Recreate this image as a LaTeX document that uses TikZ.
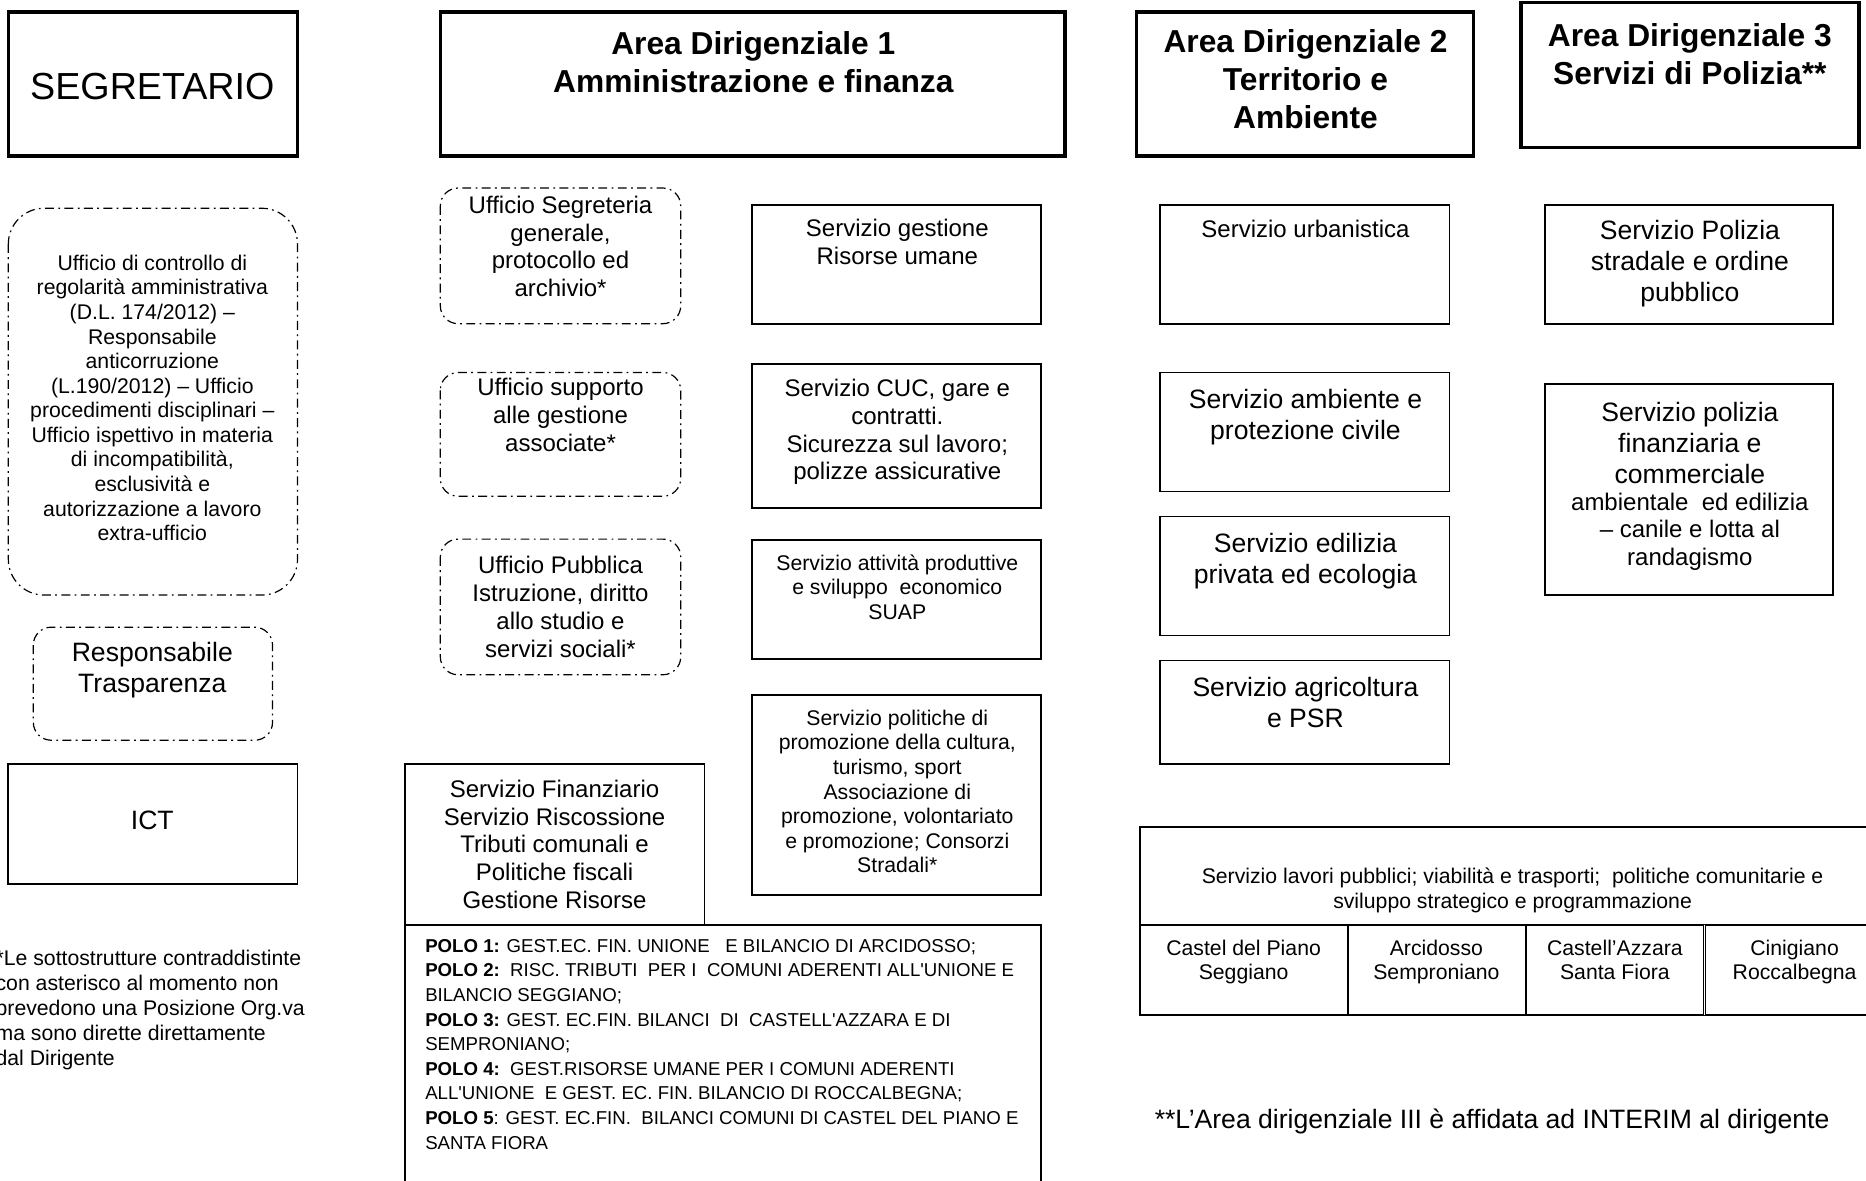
\documentclass[tikz,border=0pt]{standalone}
\usepackage{fontspec}
\setmainfont{Liberation Sans}
\tikzset{
	headbox/.style={line width=1.8pt},
	servbox/.style={line width=0.9pt},
	uffbox/.style={line width=0.6pt, dash pattern=on 4.5pt off 2.2pt on 0.9pt off 2.2pt, rounded corners=9pt},
	lbl/.style={align=center, inner sep=0pt, anchor=base},
	txthuge/.style={lbl, font=\fontsize{19}{22}\selectfont},
	txthead/.style={lbl, font=\fontsize{16}{19}\selectfont\bfseries},
	txtbig/.style={lbl, font=\fontsize{13.4}{15.6}\selectfont},
	txtmid/.style={lbl, font=\fontsize{12.1}{14}\selectfont},
	txtsmall/.style={lbl, font=\fontsize{10.7}{12.4}\selectfont},
	txtpolo/.style={lbl, align=left, anchor=base west, font=\fontsize{9.4}{12.4}\selectfont}
}

\begin{document}
\begin{tikzpicture}[x=0.6pt, y=-0.6pt]
	\useasboundingbox (0,0) rectangle (1568,992);
	
	% intestazioni (base = ultima riga)
	\draw[headbox] (7,10) rectangle (250,131);
	\draw[headbox] (370,10) rectangle (895,131);
	\draw[headbox] (955,10) rectangle (1238,131);
	\draw[headbox] (1278,2) rectangle (1562,124);
	\node[txthuge] (segr) at (128,84) {SEGRETARIO};
	\node[txthead] (area1) at (633,77.6) {Area Dirigenziale 1\\Amministrazione e finanza};
	\node[txthead] (area2) at (1097,107.6) {Area Dirigenziale 2\\Territorio e\\Ambiente};
	\node[txthead] (area3) at (1420,70.6) {Area Dirigenziale 3\\Servizi di Polizia**};
	
	% segretario
	\draw[uffbox, rounded corners=18pt] (7,175) rectangle (250,500);
	\draw[uffbox] (28,527) rectangle (229,622);
	\draw[servbox] (7,642) rectangle (250,743);
	\node[txtsmall] (controllo) at (128,454.4) {Ufficio di controllo di\\regolarità amministrativa\\(D.L. 174/2012) --\\Responsabile\\anticorruzione\\(L.190/2012) -- Ufficio\\procedimenti disciplinari --\\Ufficio ispettivo in materia\\di incompatibilità,\\esclusività e\\autorizzazione a lavoro\\extra-ufficio};
	\node[txtbig] (trasp) at (128,582) {Responsabile\\Trasparenza};
	\node[txtbig] (ict) at (128,697) {ICT};
	\node[txtsmall, align=left, anchor=base west, font=\fontsize{10.7}{12.6}\selectfont] (nota1) at (-4,895.4) {*Le sottostrutture contraddistinte\\con asterisco al momento non\\prevedono una Posizione Org.va\\ma sono dirette direttamente\\dal Dirigente};
	
	% area 1
	\draw[uffbox] (370,158) rectangle (572,272);
	\draw[uffbox] (370,313) rectangle (572,417);
	\draw[uffbox] (370,453) rectangle (572,567);
	\node[txtmid] (segreteria) at (471,249.3) {Ufficio Segreteria\\generale,\\protocollo ed\\archivio*};
	\node[txtmid] (supporto) at (471,379.3) {Ufficio supporto\\alle gestione\\associate*};
	\node[txtmid] (istruzione) at (471,552.3) {Ufficio Pubblica\\Istruzione, diritto\\allo studio e\\servizi sociali*};
	
	\draw[servbox] (632,172) rectangle (875,272);
	\draw[servbox] (632,306) rectangle (875,427);
	\draw[servbox] (632,454) rectangle (875,554);
	\draw[servbox] (632,584) rectangle (875,752);
	\node[txtmid] (risorse) at (754,222.3) {Servizio gestione\\Risorse umane};
	\node[txtmid] (cuc) at (754,403.3) {Servizio CUC, gare e\\contratti.\\Sicurezza sul lavoro;\\polizze assicurative};
	\node[txtsmall] (suap) at (754,520.4) {Servizio attività produttive\\e sviluppo\ \ economico\\SUAP};
	\node[txtsmall] (cultura) at (754,733.4) {Servizio politiche di\\promozione della cultura,\\turismo, sport\\Associazione di\\promozione, volontariato\\e promozione; Consorzi\\Stradali*};
	
	\draw[servbox] (340,777) -- (340,642) -- (592,642) -- (592,777);
	\draw[servbox] (340,1000) -- (340,777) -- (875,777) -- (875,1000);
	\node[txtmid] (finanz) at (466,763.3) {Servizio Finanziario\\Servizio Riscossione\\Tributi comunali e\\Politiche fiscali\\Gestione Risorse};
	\node[txtpolo] (poli) at (357,965.6) {\textbf{POLO 1:} GEST.EC. FIN. UNIONE\ \ \ E BILANCIO DI ARCIDOSSO;\\
		\textbf{POLO 2:}\ \ RISC. TRIBUTI\ \ PER I\ \ COMUNI ADERENTI ALL\textquotesingle UNIONE E\\
		BILANCIO SEGGIANO;\\
		\textbf{POLO 3:} GEST. EC.FIN. BILANCI\ \ DI\ \ CASTELL\textquotesingle AZZARA E DI\\
		SEMPRONIANO;\\
		\textbf{POLO 4:}\ \ GEST.RISORSE UMANE PER I COMUNI ADERENTI\\
		ALL\textquotesingle UNIONE\ \ E GEST. EC. FIN. BILANCIO DI ROCCALBEGNA;\\
		\textbf{POLO 5}: GEST. EC.FIN.\ \ BILANCI COMUNI DI CASTEL DEL PIANO E\\
		SANTA FIORA};
	
	% area 2
	\draw[servbox] (975,172) rectangle (1218,272);
	\draw[servbox] (975,313) rectangle (1218,413);
	\draw[servbox] (975,434) rectangle (1218,534);
	\draw[servbox] (975,555) rectangle (1218,642);
	\node[txtmid] (urban) at (1097,199.3) {Servizio urbanistica};
	\node[txtbig] (ambiente) at (1097,369) {Servizio ambiente e\\protezione civile};
	\node[txtbig] (edilizia) at (1097,490) {Servizio edilizia\\privata ed ecologia};
	\node[txtbig] (agricol) at (1097,611) {Servizio agricoltura\\e PSR};
	
	% area 3
	\draw[servbox] (1298,172) rectangle (1540,272);
	\draw[servbox] (1298,323) rectangle (1540,500);
	\node[txtbig] (stradale) at (1420,253) {Servizio Polizia\\stradale e ordine\\pubblico};
	\node[txtbig] (polfin) at (1420,406) {Servizio polizia\\finanziaria e\\commerciale};
	\node[txtmid] (polamb) at (1420,475.3) {ambientale\ \ ed edilizia\\-- canile e lotta al\\randagismo};
	
	% lavori pubblici
	\draw[servbox] (1580,695) -- (958,695) -- (958,853) -- (1580,853);
	\draw[servbox] (958,777) -- (1580,777);
	\draw[servbox] (1133,777) -- (1133,853);
	\draw[servbox] (1282,777) -- (1282,853);
	\draw[line width=0.5pt, double, double distance=0.6pt] (1432,777) -- (1432,853);
	\node[txtsmall] (lavori) at (1271,763.4) {Servizio lavori pubblici; viabilità e trasporti;\ \ politiche comunitarie e\\sviluppo strategico e programmazione};
	\node[txtsmall] (cpiano) at (1045,823.4) {Castel del Piano\\Seggiano};
	\node[txtsmall] (arcid) at (1207,823.4) {Arcidosso\\Semproniano};
	\node[txtsmall] (azzara) at (1357,823.4) {Castell’Azzara\\Santa Fiora};
	\node[txtsmall] (cinig) at (1508,823.4) {Cinigiano\\Roccalbegna};
	
	\node[txtbig, anchor=base west] (nota2) at (970,948) {**L’Area dirigenziale III è affidata ad INTERIM al dirigente};
\end{tikzpicture}
\end{document}
